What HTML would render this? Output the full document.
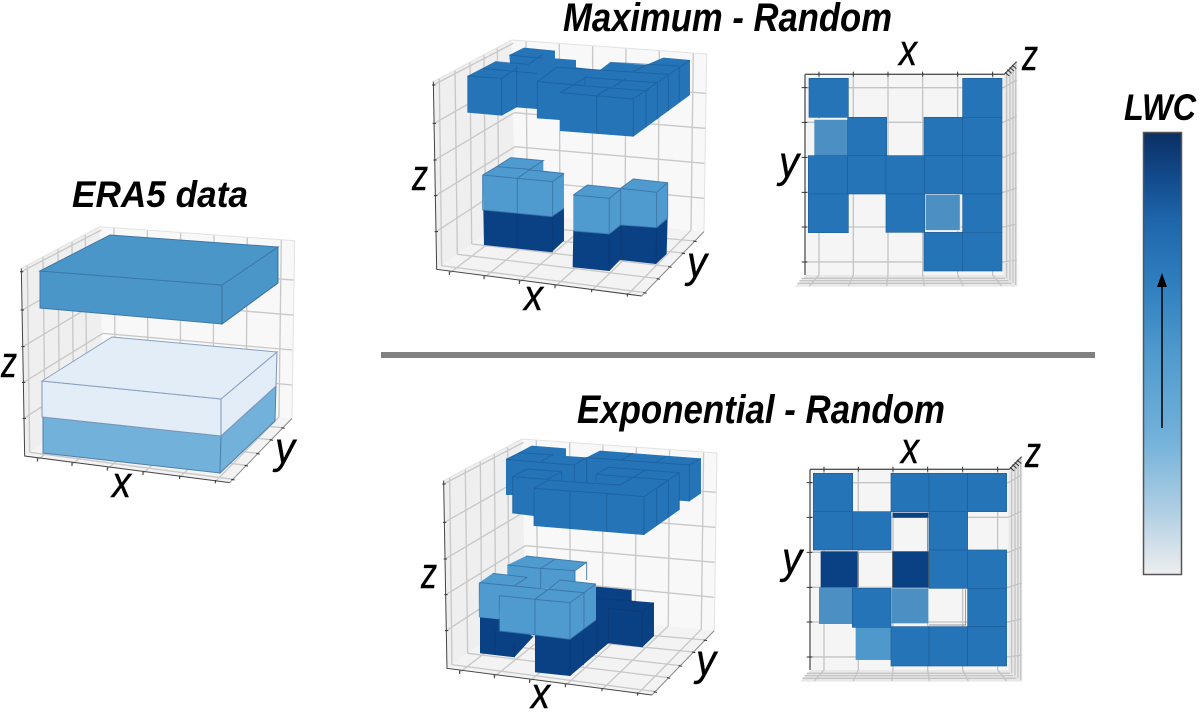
<!DOCTYPE html>
<html><head><meta charset="utf-8"><style>
html,body{margin:0;padding:0;background:#fff}
svg{display:block;filter:blur(.35px)}
.t{font-family:"Liberation Sans",sans-serif;font-style:italic;font-weight:bold;fill:#000}
.l{font-family:"Liberation Sans",sans-serif;font-style:italic;font-size:44px;fill:#000;stroke:#000;stroke-width:.4}
.e{fill:none;stroke:#1d5c98;stroke-width:3;stroke-opacity:.7}
.m{fill:#2474b7}.lt{fill:#4f9bcf}.d{fill:#0a4084}
.el{fill:none;stroke:#3a72a5;stroke-width:3;stroke-opacity:.85}
.ed{fill:none;stroke:#0d3a73;stroke-width:3;stroke-opacity:.8}
</style></head><body>
<svg width="1200" height="712" viewBox="0 0 1200 712" xmlns="http://www.w3.org/2000/svg">
<defs>
<linearGradient id="cb" x1="0" y1="0" x2="0" y2="1">
<stop offset="0" stop-color="#0b2f63"/><stop offset=".1" stop-color="#124a8b"/><stop offset=".2" stop-color="#1e66ab"/><stop offset=".35" stop-color="#3080c0"/><stop offset=".5" stop-color="#4f9acd"/><stop offset=".7" stop-color="#74b2da"/><stop offset=".85" stop-color="#adcde3"/><stop offset="1" stop-color="#eeeeee"/>
</linearGradient>
<g id="ax3">
<polygon points="100,155 335,30 346,548 110,718" fill="#efefef"/>
<polygon points="335,30 920,72 912,605 346,548" fill="#f8f8f8"/>
<polygon points="110,718 346,548 912,605 725,798" fill="#f3f3f3"/>
<path fill="none" stroke="#c8c8c8" stroke-width="4" d="M378,33L382,551M478,40L480,561M578,47L577,571M678,55L675,581M778,62L774,591M880,70L873,601M340,145L917,190M343,248L915,295M345,350L913,400M346,450L912,505M100,165L340,40M103,280L340,145M105,390L343,248M107,497L345,350M108,605L346,450M118,145L125,707M165,120L172,673M210,97L215,642M252,75L257,612M292,55L297,583M148,730L382,551M252,743L480,561M358,757L577,571M465,770L675,581M575,782L774,591M682,795L873,601M125,707L735,788M172,673L775,746M215,642L810,710M257,612L850,669M297,583L885,633"/>
<path fill="none" stroke="#e2e2e2" stroke-width="3" d="M335,30L920,72L912,605M335,30L100,155"/>
<path fill="none" stroke="#444" stroke-width="3" d="M100,155L110,718L725,798"/>
<path fill="none" stroke="#888" stroke-width="3" d="M725,798L912,605"/>
<path fill="none" stroke="#333" stroke-width="3" d="M96,165L106,165M98,280L108,280M100,390L110,390M102,497L112,497M104,605L114,605M148,725L148,735M252,738L252,748M358,752L358,762M465,765L465,775M575,777L575,787M682,790L682,800M730,788L740,790M770,746L780,748M805,710L815,712M845,669L855,671M880,633L890,635"/>
</g>
<g id="ax2">
<polygon points="107,133 700,133 700,735 107,735" fill="#f5f5f5"/>
<polygon points="700,133 742,95 742,770 700,735" fill="#e9e9e9"/>
<polygon points="107,735 700,735 742,770 75,770" fill="#e8e8e8"/>
<path fill="none" stroke="#c4c4c4" stroke-width="4" d="M147,133V735M250,133V735M354,133V735M458,133V735M563,133V735M668,133V735M107,173H700M107,277H700M107,382H700M107,487H700M107,591H700M107,696H700M147,735L118,768M250,735L235,768M354,735L350,768M458,735L463,768M563,735L580,768M668,735L695,768M700,173L740,150M700,277L740,258M700,382L740,366M700,487L740,474M700,591L740,582M700,696L740,690M710,125V745M720,115V752M729,108V758M737,100V765M95,745H705M88,752H715M82,760H725"/>
<path fill="none" stroke="#555" stroke-width="4" d="M105,133H703M105,133V735M703,133L740,95"/>
<path fill="none" stroke="#333" stroke-width="3" d="M147,125V140M250,125V140M354,125V140M458,125V140M563,125V140M668,125V140M95,173H112M95,277H112M95,382H112M95,487H112M95,591H112M95,696H112M705,127L718,138M712,119L725,130M719,112L732,123M726,105L739,116"/>
</g>
</defs>
<rect width="1200" height="712" fill="#fff"/>

<!-- ERA5 -->
<use href="#ax3" transform="translate(-12,216.7) scale(.3333)"/>
<g stroke-width="1">
<polygon points="43,417 221,436 220,473 43,453" fill="#72b2da" stroke="#4f7fae"/>
<polygon points="221,436 276,386 275,421 220,473" fill="#72b2da" stroke="#4f7fae"/>
<polygon points="42,381 221,399 221,436 42,417" fill="#e3edf7" stroke="#7f95b8"/>
<polygon points="221,399 277,352 276,386 221,436" fill="#e3edf7" stroke="#7f95b8"/>
<polygon points="42,381 112,337 277,352 221,399" fill="#e3edf7" stroke="#8a9fc0"/>
<polygon points="40,271 222,285 222,324 40,308" fill="#4b96c9" stroke="#3d78a8"/>
<polygon points="222,285 278,247 278,283 222,324" fill="#4b96c9" stroke="#3d6f9e"/>
<polygon points="40,271 110,235 278,247 222,285" fill="#4b96c9" stroke="#3d78a8"/>
</g>
<text class="t" x="72" y="207" font-size="37" textLength="176" lengthAdjust="spacingAndGlyphs">ERA5 data</text>
<text class="l" x="1" y="377" textLength="16" lengthAdjust="spacingAndGlyphs">z</text>
<text class="l" x="112" y="497" textLength="19" lengthAdjust="spacingAndGlyphs">x</text>
<text class="l" x="275" y="463" textLength="20" lengthAdjust="spacingAndGlyphs">y</text>

<!-- Maximum 3D -->
<use href="#ax3" transform="translate(400,30) scale(.3333)"/>
<g transform="translate(400,30) scale(.3333)">
<polygon class="d" points="250,540 455,560 492,535 492,632 455,667 252,645"/>
<path class="ed" d="M352,550L352,655M458,560L458,667"/>
<polygon class="lt" points="248,435 290,410 332,383 430,392 430,422 492,430 492,535 455,560 250,540"/>
<path class="el" d="M248,435L352,445L458,455L492,430M352,445V550M458,455V560M352,445L388,420L492,430M248,435L290,410L390,418M332,383L430,392L390,418M290,410L332,383M248,435V540L455,560L492,535"/>
<polygon class="d" points="520,603 628,612 662,585 770,593 803,565 800,672 768,702 660,690 628,723 518,712"/>
<path class="ed" d="M628,612V723M662,585V690M770,593L768,702"/>
<polygon class="lt" points="520,495 562,465 662,475 700,447 803,458 803,565 770,593 662,585 628,612 520,603"/>
<path class="el" d="M520,495L628,505L662,478M628,505V612M662,475L770,487L803,458M770,487V593M662,478V585M520,495L562,465L662,475L700,447L803,458V565M520,603L628,612L662,585L770,593L803,565"/>
<polygon class="m" points="202,138 285,95 330,100 328,75 372,53 465,62 465,85 528,90 528,112 600,120 630,97 738,105 790,83 870,90 870,195 700,320 480,303 480,270 412,265 412,237 350,232 305,257 202,248"/>
<path class="e" d="M202,138L305,145M305,145V257M305,145L350,115M285,95L385,103M248,115L350,125M350,105V232M350,125L412,130M328,75L430,85M385,103L430,72M412,155V265M412,155L555,167M412,155L470,112L600,120M480,188L700,207M590,197V310M700,207V320M480,188L520,165L745,183M590,197L630,172M700,207L870,90M738,180V292M772,158V268M805,133V243M838,108V215M555,142L770,158M555,142V165M600,120L805,133M630,97L838,108M520,165L560,140M640,170L680,145M700,125L740,105"/>
</g>
<text class="t" x="563" y="31" font-size="40" textLength="329" lengthAdjust="spacingAndGlyphs">Maximum - Random</text>
<text class="l" x="412" y="190" textLength="16" lengthAdjust="spacingAndGlyphs">z</text>
<text class="l" x="524" y="310" textLength="19" lengthAdjust="spacingAndGlyphs">x</text>
<text class="l" x="687" y="277" textLength="20" lengthAdjust="spacingAndGlyphs">y</text>

<!-- Maximum top -->
<use href="#ax2" transform="translate(770,30) scale(.3333)"/>
<g transform="translate(770,30) scale(.3333)">
<rect x="133" y="268" width="100" height="109" fill="#4b8fc3"/>
<rect x="467" y="495" width="104" height="105" fill="#4b8fc3"/>
<path fill="none" stroke="#e8e8e8" stroke-width="3" d="M133,268H233M571,495V602H467"/>
<g class="m" stroke="#1f5f9b" stroke-width="2">
<rect x="117" y="145" width="118" height="117"/><rect x="578" y="145" width="118" height="117"/>
<rect x="233" y="262" width="117" height="115"/><rect x="462" y="262" width="116" height="115"/><rect x="578" y="262" width="118" height="115"/>
<rect x="115" y="377" width="118" height="115"/><rect x="233" y="377" width="115" height="115"/><rect x="348" y="377" width="115" height="115"/><rect x="463" y="377" width="115" height="115"/><rect x="578" y="377" width="118" height="115"/>
<rect x="115" y="492" width="120" height="116"/><rect x="348" y="492" width="116" height="115"/><rect x="578" y="492" width="118" height="115"/>
<rect x="462" y="607" width="116" height="116"/><rect x="578" y="607" width="118" height="116"/>
</g></g>
<text class="l" x="899" y="65" textLength="18" lengthAdjust="spacingAndGlyphs">x</text>
<text class="l" x="1022" y="70" textLength="16" lengthAdjust="spacingAndGlyphs">z</text>
<text class="l" x="779" y="177" textLength="20" lengthAdjust="spacingAndGlyphs">y</text>

<!-- divider -->
<rect x="381" y="352" width="714" height="6" fill="#808080"/>

<!-- Exponential 3D -->
<use href="#ax3" transform="translate(410.3,429) scale(.3333)"/>
<g transform="translate(420,430) scale(.3333)">
<polygon class="d" points="180,555 240,565 340,620 283,682 180,670"/>
<path class="ed" d="M283,640V682M225,600V675"/>
<polygon class="d" points="345,600 530,470 635,480 635,512 702,518 702,618 667,652 565,640 450,738 345,727"/>
<path class="ed" d="M450,628V738M490,600V706M530,570V672M565,535V640M667,545V652M667,545L702,518M565,535L667,545M530,505L635,512"/>
<polygon class="lt" points="262,405 318,378 500,397 465,422 465,480 262,470"/>
<path class="el" d="M262,405L362,415L465,422L500,397V450M362,415V475M362,415L405,388M465,422V480M318,378L500,397"/>
<polygon class="lt" points="178,458 218,430 322,442 322,470 238,505 238,568 180,562"/>
<path class="el" d="M178,458L282,468L322,442M218,430L322,442M178,458V562"/>
<polygon class="lt" points="238,497 280,468 385,478 420,450 528,462 528,570 450,628 345,615 240,603"/>
<path class="el" d="M238,497L345,508L450,518L528,462M345,508V615M450,518V628M238,497V603L345,615L450,628L528,570M345,508L385,478L492,488M280,468L385,478L420,450L528,462M492,488V595"/>
<polygon class="m" points="258,88 335,47 438,55 438,78 500,82 540,62 843,85 843,190 808,214 778,212 778,240 672,315 342,288 342,258 278,250 278,195 258,195"/>
<path class="e" d="M258,88L360,97M258,88L300,68L400,75M360,97L400,72M360,97L463,105L500,82M463,105V155M278,140L320,117L425,125M278,140L380,148L425,125M278,140V250M425,125V150M342,175L450,183L560,190L672,200L778,128M342,175L385,150L490,158L600,165L640,142M450,183V297M560,190V305M672,200V315M342,175V288M500,83V155M500,83L808,105L843,85M640,70L600,92M740,78L708,97M528,133L565,112L778,128M528,133V155M528,133L640,142L745,150L710,175M745,150V262M710,175V283M808,105V214M778,128V240M640,142L680,118"/>
</g>
<text class="t" x="577" y="423" font-size="40" textLength="368" lengthAdjust="spacingAndGlyphs">Exponential - Random</text>
<text class="l" x="421" y="588" textLength="16" lengthAdjust="spacingAndGlyphs">z</text>
<text class="l" x="531" y="708" textLength="19" lengthAdjust="spacingAndGlyphs">x</text>
<text class="l" x="696" y="675" textLength="20" lengthAdjust="spacingAndGlyphs">y</text>

<!-- Exponential top -->
<use href="#ax2" transform="translate(775,425) scale(.3333)"/>
<g transform="translate(780,430) scale(.3333)">
<rect x="338" y="248" width="107" height="15" fill="#0a4084"/>
<rect x="123" y="365" width="109" height="107" fill="#0a4084" stroke="#0d3a73" stroke-width="2"/>
<rect x="338" y="365" width="107" height="107" fill="#0a4084" stroke="#333" stroke-width="2"/>
<rect x="117" y="472" width="100" height="110" fill="#4b8fc3"/>
<rect x="335" y="475" width="110" height="105" fill="#4b8fc3"/>
<rect x="227" y="592" width="106" height="98" fill="#4f98cb"/>
<path fill="none" stroke="#777" stroke-width="2" d="M338,263H442V362M235,367V472M447,585H557V478"/>
<g class="m" stroke="#1f5f9b" stroke-width="2">
<rect x="100" y="130" width="118" height="115"/><rect x="333" y="130" width="114" height="115"/><rect x="447" y="130" width="116" height="115"/><rect x="563" y="130" width="117" height="115"/>
<rect x="100" y="245" width="118" height="115"/><rect x="218" y="245" width="115" height="115"/><rect x="447" y="245" width="116" height="115"/>
<rect x="447" y="360" width="116" height="115"/><rect x="563" y="360" width="117" height="115"/>
<rect x="217" y="475" width="116" height="117"/><rect x="563" y="475" width="117" height="115"/>
<rect x="333" y="590" width="114" height="118"/><rect x="447" y="590" width="116" height="118"/><rect x="563" y="590" width="117" height="118"/>
</g></g>
<text class="l" x="901" y="463" textLength="18" lengthAdjust="spacingAndGlyphs">x</text>
<text class="l" x="1025" y="467" textLength="16" lengthAdjust="spacingAndGlyphs">z</text>
<text class="l" x="782" y="573" textLength="20" lengthAdjust="spacingAndGlyphs">y</text>

<!-- Colorbar -->
<text class="t" x="1124" y="120" font-size="37" textLength="72" lengthAdjust="spacingAndGlyphs">LWC</text>
<rect x="1143.5" y="132.5" width="38" height="442" fill="url(#cb)" stroke="#555" stroke-width="1.5"/>
<line x1="1162" y1="428" x2="1162" y2="284" stroke="#000" stroke-width="1.5"/>
<polygon points="1162,273 1157,287 1167,287" fill="#000"/>
</svg>
</body></html>
